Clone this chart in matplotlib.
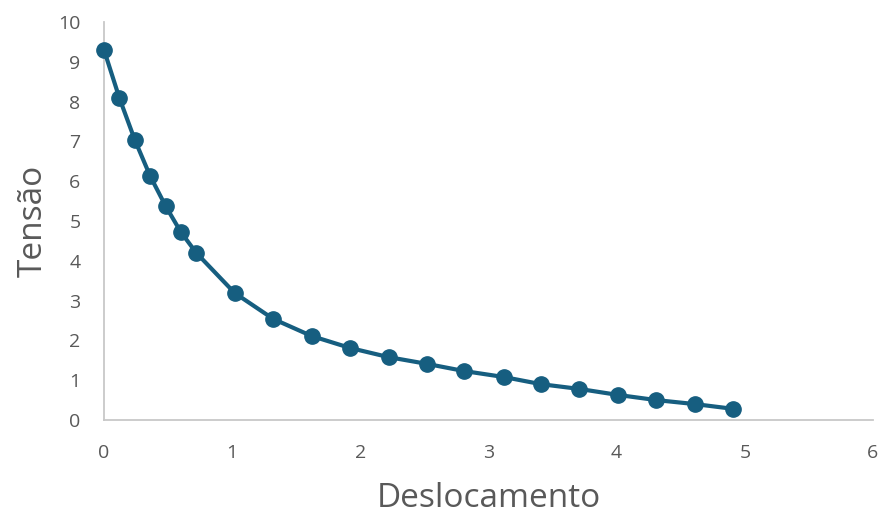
import matplotlib
matplotlib.use("Agg")
import matplotlib.pyplot as plt

deslocamento = [0.0, 0.12, 0.24, 0.36, 0.48, 0.60, 0.72, 1.02, 1.32, 1.62, 1.92,
                2.22, 2.52, 2.81, 3.12, 3.41, 3.71, 4.01, 4.31, 4.61, 4.91]
tensao = [9.30, 8.09, 7.04, 6.13, 5.38, 4.72, 4.20, 3.19, 2.54, 2.11, 1.81,
          1.58, 1.41, 1.23, 1.08, 0.90, 0.78, 0.63, 0.50, 0.40, 0.28]
x_ticks = [0, 1, 2, 3, 4, 5, 6]
y_ticks = [0, 1, 2, 3, 4, 5, 6, 7, 8, 9, 10]

plt.rcParams['font.family'] = ['Open Sans', 'DejaVu Sans']

fig = plt.figure(figsize=(8.84, 5.14), dpi=100)
ax = fig.add_axes([104/884, (514-420)/514, (873-104)/884, (420-22)/514])

color = '#165E80'
ax.plot(deslocamento, tensao, color=color, linewidth=3.0, marker='o',
        markersize=11, markerfacecolor=color, markeredgecolor=color, zorder=3,
        clip_on=False)

ax.set_xlim(0, 6)
ax.set_ylim(0, 10)
ax.set_xticks(x_ticks)
ax.set_yticks(y_ticks)
ax.tick_params(axis='both', length=0, labelsize=14, labelcolor='#595959')
ax.tick_params(axis='x', pad=17)
ax.tick_params(axis='y', pad=17)

for s in ['top', 'right']:
    ax.spines[s].set_visible(False)
for s in ['left', 'bottom']:
    ax.spines[s].set_color('#C8C8C8')
    ax.spines[s].set_linewidth(1.3)

ax.set_xlabel('Deslocamento', fontsize=24, color='#595959', labelpad=15)
ax.set_ylabel('Tensão', fontsize=24, color='#595959', labelpad=6)

fig.savefig('out.png', dpi=100)
